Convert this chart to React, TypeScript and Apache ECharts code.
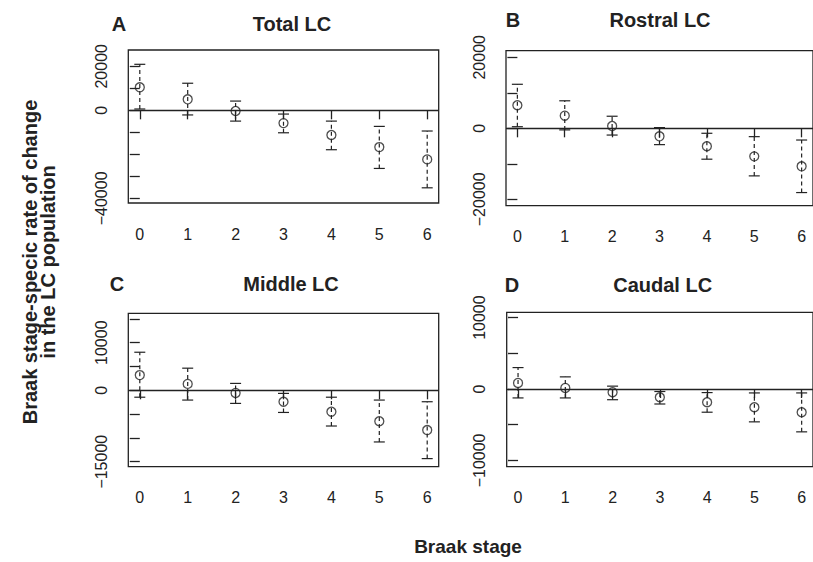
import React, { useEffect, useRef } from "react";
import * as echarts from "echarts";

// ---- data ----
const stages = [0, 1, 2, 3, 4, 5, 6];

const panelLetters = ["A", "B", "C", "D"];
const panelTitles = ["Total LC", "Rostral LC", "Middle LC", "Caudal LC"];

const totalMean = [10450, 5000, -300, -5800, -11200, -16700, -22300];
const totalLower = [600, -2100, -4900, -10200, -17900, -26400, -35200];
const totalUpper = [20900, 12300, 4200, -1700, -4900, -7300, -9400];

const rostralMean = [6500, 3550, 650, -2250, -5050, -7900, -10700];
const rostralLower = [450, -450, -1900, -4600, -8700, -13400, -18100];
const rostralUpper = [12400, 7750, 3400, 200, -1400, -2350, -3300];

const middleMean = [3200, 1350, -550, -2400, -4500, -6500, -8350];
const middleLower = [-1450, -2050, -2750, -4650, -7500, -10850, -14350];
const middleUpper = [8000, 4650, 1450, -650, -1450, -2050, -2400];

const caudalMean = [850, 150, -450, -1150, -1850, -2550, -3250];
const caudalLower = [-1250, -1250, -1500, -2100, -3250, -4600, -6000];
const caudalUpper = [3000, 1700, 400, -350, -500, -550, -550];

const yTicksTotal = [-40000, -30000, -20000, -10000, 0, 10000, 20000];
const yLabelsTotal = [20000, 0, -40000];
const yTicksRostral = [-20000, -10000, 0, 10000, 20000];
const yLabelsRostral = [20000, 0, -20000];
const yTicksMiddle = [-15000, -10000, -5000, 0, 5000, 10000, 15000];
const yLabelsMiddle = [10000, 0, -15000];
const yTicksCaudal = [-10000, -5000, 0, 5000, 10000];
const yLabelsCaudal = [10000, 0, -10000];

const yTitle = "Braak stage-specic rate of change\nin the LC population";
const xTitle = "Braak stage";

const means = [totalMean, rostralMean, middleMean, caudalMean];
const lowers = [totalLower, rostralLower, middleLower, caudalLower];
const uppers = [totalUpper, rostralUpper, middleUpper, caudalUpper];
const yTicks = [yTicksTotal, yTicksRostral, yTicksMiddle, yTicksCaudal];
const yLabels = [yLabelsTotal, yLabelsRostral, yLabelsMiddle, yLabelsCaudal];

// ---- layout ----
const layouts = [
  { left: 128.3, top: 50, width: 310.4, height: 153, min: -42100, max: 27400, letter: [119, 24], title: [292, 24] },
  { left: 506, top: 50.7, width: 310.4, height: 155, min: -21800, max: 21860, letter: [513, 19.5], title: [660, 19.5] },
  { left: 128.3, top: 313.3, width: 310.4, height: 153.4, min: -16050, max: 16180, letter: [117, 284], title: [291, 284] },
  { left: 506.7, top: 312.3, width: 310.4, height: 154.4, min: -10880, max: 10740, letter: [512, 285], title: [662.7, 285] },
];

const FONT = "'Liberation Sans', Arial, Helvetica, sans-serif";
const INK = "#222";

const fmt = (v: number) => (v < 0 ? "\u2212" + Math.abs(v) : String(v));

export default function App() {
  const ref = useRef<HTMLDivElement>(null);

  useEffect(() => {
    if (!ref.current) return;
    const chart = echarts.init(ref.current, undefined, { renderer: "svg" });

    const grid: any[] = [];
    const xAxis: any[] = [];
    const yAxis: any[] = [];
    const series: any[] = [];
    const graphic: any[] = [];

    layouts.forEach((L, i) => {
      grid.push({
        left: L.left,
        top: L.top,
        width: L.width,
        height: L.height,
        show: true,
        borderColor: INK,
        borderWidth: 1.3,
        backgroundColor: "transparent",
        containLabel: false,
      });
      xAxis.push({
        type: "value",
        gridIndex: i,
        min: -0.24,
        max: 6.24,
        offset: 3,
        axisLine: { show: false },
        splitLine: { show: false },
        axisTick: { show: true, length: 9, customValues: stages, lineStyle: { color: INK, width: 1.3 } },
        axisLabel: {
          customValues: stages,
          margin: 20,
          fontSize: 16,
          color: INK,
          fontFamily: FONT,
          formatter: (v: number) => String(v),
        },
      });
      yAxis.push({
        type: "value",
        gridIndex: i,
        min: L.min,
        max: L.max,
        axisLine: { show: false },
        splitLine: { show: false },
        axisTick: { show: true, length: 10, customValues: yTicks[i], lineStyle: { color: INK, width: 1.3 } },
        axisLabel: {
          customValues: yLabels[i],
          rotate: 90,
          margin: 19,
          fontSize: 16,
          color: INK,
          fontFamily: FONT,
          formatter: (v: number) => fmt(v),
        },
      });
      series.push({
        type: "custom",
        xAxisIndex: i,
        yAxisIndex: i,
        encode: { x: 0, y: [1, 2] },
        data: stages.map((s, j) => [s, lowers[i][j], uppers[i][j]]),
        renderItem: (params: any, api: any) => {
          const x = api.value(0);
          const lo = api.coord([x, api.value(1)]);
          const hi = api.coord([x, api.value(2)]);
          const cap = 5.5;
          const st = { stroke: INK, lineWidth: 1.2 };
          return {
            type: "group",
            children: [
              { type: "line", shape: { x1: lo[0], y1: lo[1], x2: hi[0], y2: hi[1] }, style: { ...st, lineDash: [4, 3] } },
              { type: "line", shape: { x1: hi[0] - cap, y1: hi[1], x2: hi[0] + cap, y2: hi[1] }, style: st },
              { type: "line", shape: { x1: lo[0] - cap, y1: lo[1], x2: lo[0] + cap, y2: lo[1] }, style: st },
            ],
          };
        },
      });
      series.push({
        type: "scatter",
        xAxisIndex: i,
        yAxisIndex: i,
        symbol: "circle",
        symbolSize: 9,
        itemStyle: { color: "rgba(0,0,0,0)", borderColor: INK, borderWidth: 1.3 },
        data: stages.map((s, j) => [s, means[i][j]]),
        markLine: {
          silent: true,
          symbol: ["none", "none"],
          label: { show: false },
          lineStyle: { type: "solid", color: INK, width: 1.3 },
          data: [{ yAxis: 0 }],
        },
      });
      graphic.push({
        type: "text",
        x: L.letter[0],
        y: L.letter[1],
        style: { text: panelLetters[i], font: `bold 20px ${FONT}`, fill: INK, textAlign: "center", textVerticalAlign: "middle" },
      });
      graphic.push({
        type: "text",
        x: L.title[0],
        y: L.title[1],
        style: { text: panelTitles[i], font: `bold 20px ${FONT}`, fill: INK, textAlign: "center", textVerticalAlign: "middle" },
      });
    });

    graphic.push({
      type: "text",
      x: 39,
      y: 262,
      rotation: Math.PI / 2,
      style: {
        text: yTitle,
        font: `bold 20px ${FONT}`,
        fill: INK,
        textAlign: "center",
        textVerticalAlign: "middle",
        lineHeight: 18,
      },
    });
    graphic.push({
      type: "text",
      x: 468,
      y: 546,
      style: { text: xTitle, font: `bold 19px ${FONT}`, fill: INK, textAlign: "center", textVerticalAlign: "middle" },
    });

    chart.setOption({
      animation: false,
      backgroundColor: "#ffffff",
      grid,
      xAxis,
      yAxis,
      series,
      graphic,
    });

    return () => chart.dispose();
  }, []);

  return (
    <div
      ref={ref}
      style={{ position: "fixed", left: 0, top: 0, width: 813, height: 562 }}
    />
  );
}
